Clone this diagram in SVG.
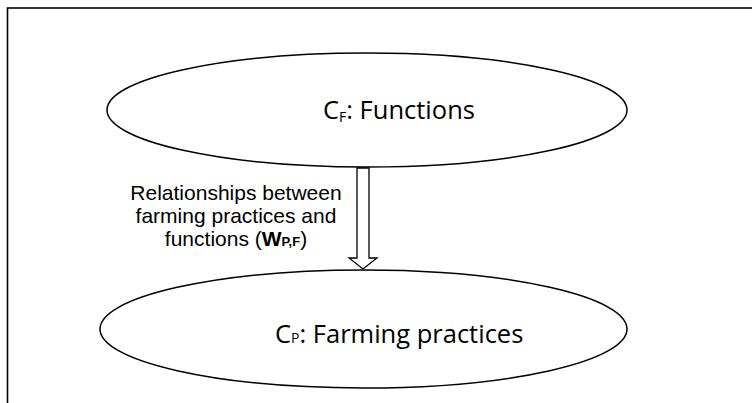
<svg xmlns="http://www.w3.org/2000/svg" width="752" height="403" viewBox="0 0 752 403">
  <style>
    .frame { fill: none; stroke: #000; stroke-width: 1.6; }
    .node { fill: #fff; stroke: #000; stroke-width: 1.5; }
    .title { font-family: "Open Sans", "Noto Sans", sans-serif; font-size: 25.5px; fill: #000; }
    .sub { font-size: 14px; }
    .label { font-family: "Liberation Sans", Arial, sans-serif; font-size: 21px; fill: #000; text-anchor: middle; }
    .arrow { fill: #fff; stroke: #000; stroke-width: 1.3; stroke-linejoin: miter; }
  </style>

  <rect class="frame" x="7.5" y="8" width="760" height="420"/>

  <g id="functions">
    <ellipse class="node" cx="367" cy="110" rx="260" ry="57"/>
    <text class="title" x="323" y="119">C<tspan class="sub" dy="3">F</tspan><tspan dy="-3">: Functions</tspan></text>
  </g>

  <g id="practices">
    <ellipse class="node" cx="363.5" cy="329" rx="263.5" ry="59"/>
    <text class="title" x="275" y="343">C<tspan class="sub">P</tspan>: Farming practices</text>
  </g>

  <g id="connectors">
    <path class="arrow" d="M357,168 L369,168 L369,258 L377,258 L363,269 L349,258 L357,258 Z"/>
    <text class="label" x="236" y="200">Relationships between</text>
    <text class="label" x="236" y="223">farming practices and</text>
    <text class="label" x="236" y="246">functions (<tspan font-weight="bold">W<tspan font-size="13px">P,F</tspan></tspan>)</text>
  </g>
</svg>
